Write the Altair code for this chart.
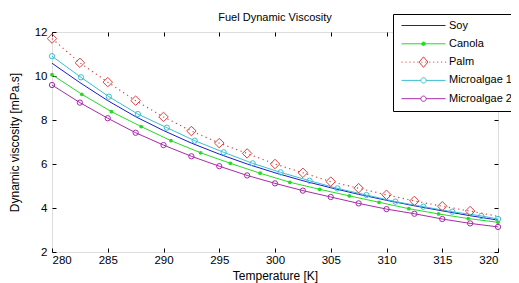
import altair as alt
import pandas as pd

# ---- data ----
series = ["Soy", "Canola", "Palm", "Microalgae 1", "Microalgae 2"]
colors = ["#1a1ad0", "#22dd22", "#d84040", "#3cbfcf", "#a82aa8"]

T_soy = [280, 282.5, 285, 287.5, 290, 292.5, 295, 297.5, 300, 302.5, 305, 307.5, 310, 312.5, 315, 317.5, 320]
soy = [10.58, 9.70, 8.88, 8.15, 7.52, 6.95, 6.45, 6.00, 5.60, 5.24, 4.92, 4.62, 4.35, 4.10, 3.87, 3.65, 3.45]

T_canola = [280.0, 282.67, 285.33, 288.0, 290.67, 293.33, 296.0, 298.67, 301.33, 304.0, 306.67, 309.33, 312.0, 314.67, 317.33, 320.0]
canola = [10.06, 9.17, 8.38, 7.70, 7.06, 6.51, 6.03, 5.58, 5.17, 4.85, 4.55, 4.26, 3.97, 3.73, 3.52, 3.35]

T_palm = [280, 282.5, 285, 287.5, 290, 292.5, 295, 297.5, 300, 302.5, 305, 307.5, 310, 312.5, 315, 317.5, 320]
palm = [11.70, 10.60, 9.72, 8.88, 8.14, 7.50, 6.95, 6.48, 6.00, 5.60, 5.20, 4.90, 4.60, 4.32, 4.08, 3.86, 3.62]

T_micro1 = [280, 282.6, 285.1, 287.7, 290.3, 292.8, 295.4, 298.0, 300.5, 303.1, 305.6, 308.2, 310.8, 313.3, 315.9, 318.5, 320]
micro1 = [10.90, 9.94, 9.06, 8.27, 7.65, 7.06, 6.53, 6.03, 5.62, 5.24, 4.89, 4.59, 4.29, 4.06, 3.83, 3.64, 3.50]

T_micro2 = [280, 282.5, 285, 287.5, 290, 292.5, 295, 297.5, 300, 302.5, 305, 307.5, 310, 312.5, 315, 317.5, 320]
micro2 = [9.59, 8.79, 8.08, 7.42, 6.86, 6.35, 5.90, 5.48, 5.12, 4.79, 4.50, 4.21, 3.95, 3.74, 3.50, 3.30, 3.14]

x_ticks = [280, 285, 290, 295, 300, 305, 310, 315, 320]
y_ticks = [2, 4, 6, 8, 10, 12]

FONT = "Liberation Sans"

frames = []
for name, T, v in [("Soy", T_soy, soy), ("Canola", T_canola, canola), ("Palm", T_palm, palm),
                   ("Microalgae 1", T_micro1, micro1), ("Microalgae 2", T_micro2, micro2)]:
    frames.append(pd.DataFrame({"series": name, "T": T, "v": v}))
df = pd.concat(frames, ignore_index=True)

xscale = alt.Scale(domain=[280, 320], nice=False, zero=False)
yscale = alt.Scale(domain=[2, 12], nice=False, zero=False)

ax_common = dict(domain=False, grid=False, tickSize=4, offset=-4, tickColor="black",
                 labelFont=FONT, labelFontSize=11.5, labelColor="black",
                 titleFont=FONT, titleFontSize=12, titleFontWeight="normal", titleColor="black")

x_bottom = alt.X("T:Q", scale=xscale, axis=alt.Axis(values=x_ticks, title="Temperature [K]",
                                                    labelPadding=2, titlePadding=5, **ax_common))
y_left = alt.Y("v:Q", scale=yscale, axis=alt.Axis(values=y_ticks, title="Dynamic viscosity  [mPa.s]",
                                                 labelPadding=5, titlePadding=13, **ax_common))
x_top = alt.X("T:Q", scale=xscale, axis=alt.Axis(orient="top", values=x_ticks, labels=False, title=None,
                                                 domain=False, grid=False, tickSize=4, offset=-4, tickColor="black"))
y_right = alt.Y("v:Q", scale=yscale, axis=alt.Axis(orient="right", values=y_ticks, labels=False, title=None,
                                                  domain=False, grid=False, tickSize=4, offset=-4, tickColor="black"))
x_none = alt.X("T:Q", scale=xscale, axis=None)
y_none = alt.Y("v:Q", scale=yscale, axis=None)

def sub(name):
    return df[df["series"] == name]

col = dict(zip(series, colors))

layers = []
# axes carriers
layers.append(alt.Chart(sub("Soy")).mark_line(color=col["Soy"], strokeWidth=1).encode(x=x_bottom, y=y_left))
layers.append(alt.Chart(sub("Soy")).mark_line(opacity=0).encode(x=x_top, y=y_right))
# lines
for name in ["Canola", "Microalgae 1", "Microalgae 2"]:
    layers.append(alt.Chart(sub(name)).mark_line(color=col[name], strokeWidth=1).encode(x=x_none, y=y_none))
layers.append(alt.Chart(sub("Palm")).mark_line(color=col["Palm"], strokeWidth=1.2, strokeDash=[1.2, 3.5])
              .encode(x=x_none, y=y_none))
# markers
layers.append(alt.Chart(sub("Canola")).mark_point(shape="circle", filled=True, size=14, color=col["Canola"], opacity=1)
              .encode(x=x_none, y=y_none))
layers.append(alt.Chart(sub("Palm")).transform_filter("datum.T < 320")
              .mark_point(shape="diamond", filled=False, size=90, color=col["Palm"], strokeWidth=1, opacity=1)
              .encode(x=x_none, y=y_none))
for name in ["Microalgae 1", "Microalgae 2"]:
    layers.append(alt.Chart(sub(name)).mark_point(shape="circle", filled=False, size=28, color=col[name],
                                                  strokeWidth=1, opacity=1)
                  .encode(x=x_none, y=y_none))

# legend carrier (line + marker glyphs as custom symbol paths in the unit square)
dots = "".join("M%.3f,0h0.05" % (-1 + i * 0.18) for i in range(12))
circ = lambda r: "M-%.2f,0a%.2f,%.2f 0 1,0 %.2f,0a%.2f,%.2f 0 1,0 -%.2f,0" % (r, r, r, 2 * r, r, r, 2 * r)
paths = [
    "M-1,0H1",
    "M-1,0H1" + circ(0.08),
    dots + "M0,-0.24L0.2,0L0,0.24L-0.2,0Z",
    "M-1,0H-0.12M0.12,0H1" + circ(0.12),
    "M-1,0H-0.12M0.12,0H1" + circ(0.12),
]
fills = ["transparent", colors[1], "white", "transparent", "transparent"]
leg = alt.Legend(title=None, orient="none", legendX=341, legendY=-18,
                 strokeColor="black", fillColor="white", padding=5,
                 labelFont=FONT, labelFontSize=11, labelColor="black",
                 labelOffset=3, symbolOffset=3, rowPadding=5.3, clipHeight=13,
                 symbolStrokeWidth=1, symbolSize=1936)
layers.append(alt.Chart(df).mark_point(size=1936, strokeOpacity=0, fillOpacity=0, filled=False)
              .encode(x=x_none, y=y_none,
                      stroke=alt.Stroke("series:N", scale=alt.Scale(domain=series, range=colors), legend=leg),
                      fill=alt.Fill("series:N", scale=alt.Scale(domain=series, range=fills), legend=leg),
                      shape=alt.Shape("series:N", scale=alt.Scale(domain=series, range=paths), legend=leg)))

chart = (alt.layer(*layers)
         .resolve_axis(x="independent", y="independent")
         .properties(width=446, height=220,
                     title=alt.TitleParams("Fuel Dynamic Viscosity", font=FONT, fontSize=11, fontWeight="normal",
                                           color="black", anchor="middle", offset=6, dy=15),
                     autosize=alt.AutoSizeParams(type="none"),
                     padding={"left": 44, "top": 24, "right": 13, "bottom": 31})
         .configure_view(stroke="black", strokeWidth=1)
         .configure(background="white"))

chart.save("out.html", embed_options={"renderer": "svg", "actions": False})
